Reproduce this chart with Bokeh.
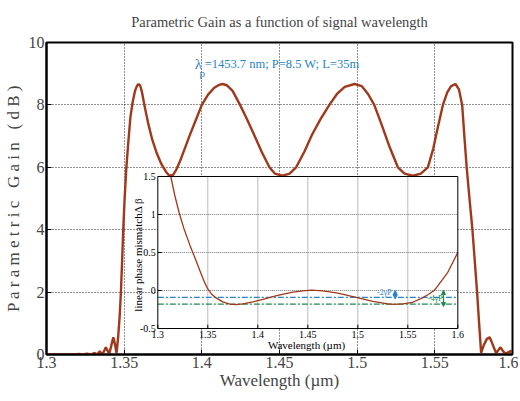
from math import pi
from bokeh.plotting import figure
from bokeh.models import Range1d, FixedTicker, Arrow, NormalHead, Title
from bokeh.core.properties import value
from bokeh.embed import file_html
from bokeh.resources import INLINE

# ---------------- data ----------------
wavelength_um = [
    1.300, 1.310, 1.318, 1.321, 1.3235, 1.326, 1.3285, 1.331, 1.3325, 1.3343,
    1.336, 1.3382, 1.3404, 1.3418, 1.343, 1.3442, 1.3451, 1.3462, 1.3472, 1.3479,
    1.3487, 1.3494, 1.3503, 1.3513, 1.3525, 1.354, 1.3555, 1.357, 1.3583, 1.3593,
    1.3603, 1.3615, 1.363, 1.3655, 1.368, 1.371, 1.374, 1.377, 1.3785, 1.380,
    1.3815, 1.3835, 1.386, 1.389, 1.392, 1.396, 1.400, 1.404, 1.408, 1.411,
    1.4134, 1.416, 1.4198, 1.4246, 1.429, 1.434, 1.4385, 1.4435, 1.447, 1.452,
    1.4565, 1.4607, 1.466, 1.471, 1.4765, 1.4821, 1.487, 1.492, 1.4983, 1.503,
    1.507, 1.511, 1.5155, 1.5205, 1.5262, 1.5305, 1.5358, 1.541, 1.5455, 1.549,
    1.552, 1.5552, 1.558, 1.5605, 1.5633, 1.5655, 1.5676, 1.569, 1.5705, 1.5723,
    1.5742, 1.5757, 1.5772, 1.5785, 1.5798, 1.5815, 1.5835, 1.5853, 1.587, 1.5895,
    1.591, 1.5923, 1.594, 1.5955, 1.5975, 1.5991, 1.600,
]
gain_db = [
    0.0, 0.0, 0.0, 0.02, 0.0, 0.03, 0.0, 0.05, 0.0, 0.10,
    0.0, 0.23, 0.02, 0.30, 0.55, 0.30, 0.04, 0.60, 1.30, 2.00,
    3.00, 4.00, 5.00, 5.90, 6.70, 7.60, 8.10, 8.45, 8.62, 8.67,
    8.62, 8.40, 8.00, 7.40, 6.90, 6.45, 6.10, 5.85, 5.76, 5.73,
    5.76, 5.92, 6.20, 6.60, 7.00, 7.50, 8.00, 8.33, 8.55, 8.64,
    8.67, 8.63, 8.45, 8.00, 7.55, 7.00, 6.50, 6.00, 5.80, 5.73,
    5.80, 6.00, 6.50, 7.05, 7.55, 8.00, 8.35, 8.58, 8.67, 8.60,
    8.35, 8.00, 7.40, 6.70, 6.00, 5.80, 5.73, 5.80, 6.00, 6.60,
    7.30, 8.00, 8.40, 8.60, 8.67, 8.50, 8.00, 7.00, 6.00, 5.00,
    4.00, 3.00, 2.00, 1.00, 0.05, 0.30, 0.50, 0.55, 0.35, 0.04,
    0.15, 0.23, 0.10, 0.02, 0.08, 0.12, 0.08,
]

inset_wavelength_um = [
    1.313, 1.317, 1.3214, 1.326, 1.332, 1.338, 1.343, 1.347, 1.350, 1.354,
    1.3574, 1.365, 1.372, 1.378, 1.385, 1.395, 1.405, 1.4124, 1.420, 1.435,
    1.445, 1.4537, 1.465, 1.480, 1.4984, 1.515, 1.530, 1.5364, 1.545, 1.555,
    1.5656, 1.570, 1.5764, 1.580, 1.590, 1.600,
]
delta_beta = [
    1.50, 1.25, 1.02, 0.82, 0.60, 0.40, 0.23, 0.10, 0.02, -0.05,
    -0.09, -0.15, -0.178, -0.185, -0.175, -0.15, -0.117, -0.09, -0.063, -0.021,
    -0.004, 0.005, -0.006, -0.035, -0.09, -0.143, -0.175, -0.182, -0.175, -0.155,
    -0.09, -0.055, 0.0, 0.06, 0.24, 0.50,
]
minus_2gP = -0.09
minus_4gP = -0.18

x_ticks = [1.3, 1.35, 1.4, 1.45, 1.5, 1.55, 1.6]
x_tick_labels = ["1.3", "1.35", "1.4", "1.45", "1.5", "1.55", "1.6"]
y_ticks = [0, 2, 4, 6, 8, 10]
inset_y_ticks = [-0.5, 0, 0.5, 1, 1.5]
inset_y_tick_labels = ["-0.5", "0", "0.5", "1", "1.5"]

title_text = "Parametric Gain as a function of signal wavelength"
x_label = "Wavelength (\u00b5m)"
y_label = "P a r a m e t r i c \u00a0 G a i n \u00a0 ( d B )"
inset_y_label = "linear phase mismatch\u0394 \u03b2"
params_text = "=1453.7 nm; P=8.5 W; L=35m"

# ---------------- styling ----------------
SERIF = "Liberation Serif"
CURVE = "#a0381b"
BLUE = "#2a84c6"
GREEN = "#1d8a4e"

p = figure(
    frame_width=466, frame_height=312,
    x_range=Range1d(1.3, 1.6), y_range=Range1d(0, 10),
    output_backend="svg", toolbar_location=None,
    title=title_text,
    min_border_left=30, min_border_right=6, min_border_top=42, min_border_bottom=10,
)
p.title.text_font = SERIF
p.title.text_font_size = "14.5px"
p.title.text_font_style = "normal"
p.title.align = "center"
p.title.offset = 0

# small empty spacer between title and frame
p.add_layout(Title(text="\u00a0", text_font_size="6px", standoff=0), "above")

p.outline_line_color = "black"
p.outline_line_width = 2
p.background_fill_color = "white"

for ax in (p.xaxis, p.yaxis):
    ax.axis_line_color = "black"
    ax.axis_line_width = 2
    ax.major_tick_in = 5
    ax.major_tick_out = 0
    ax.minor_tick_line_color = None
    ax.major_label_text_font = SERIF
    ax.major_label_text_font_size = "16px"
    ax.axis_label_text_font = SERIF
    ax.axis_label_text_font_size = "17px"
    ax.axis_label_text_font_style = "normal"

p.xaxis.ticker = FixedTicker(ticks=x_ticks)
p.xaxis.major_label_overrides = {t: s for t, s in zip(x_ticks, x_tick_labels)}
p.xaxis.major_label_standoff = 2
p.xaxis.axis_label = x_label
p.xaxis.axis_label_standoff = 0

p.yaxis.ticker = FixedTicker(ticks=y_ticks)
p.yaxis.major_label_standoff = 2
p.yaxis.axis_label = y_label
p.yaxis.axis_label_standoff = 3

p.grid.grid_line_color = "#222222"
p.grid.grid_line_dash = "1 2"
p.grid.grid_line_width = 1

# main curve
p.line(wavelength_um, gain_db, line_color=CURVE, line_width=2.4)

# parameter annotation
p.text(x=[1.3955], y=[9.32], text=["\u03bb"], text_font=value(SERIF), text_font_size="15px",
       text_color=BLUE, text_align="left", text_baseline="alphabetic")
p.text(x=[1.3985], y=[9.02], text=["p"], text_font=value(SERIF), text_font_size="11px",
       text_color=BLUE, text_align="left", text_baseline="alphabetic")
p.text(x=[1.4018], y=[9.32], text=[params_text], text_font=value(SERIF), text_font_size="12.5px",
       text_color=BLUE, text_align="left", text_baseline="alphabetic")

# ---------------- inset (drawn through its own ranges) ----------------
p.extra_x_ranges = {"inset": Range1d(1.1887, 1.6547)}
p.extra_y_ranges = {"inset": Range1d(-0.842, 3.263)}
kw = dict(x_range_name="inset", y_range_name="inset")

x0, x1 = x_ticks[0], x_ticks[-1]
y0, y1 = inset_y_ticks[0], inset_y_ticks[-1]
p.quad(left=[x0], right=[x1], bottom=[y0], top=[y1], fill_color="white",
       line_color=None, **kw)

# inset grid
gx = x_ticks[1:-1]
p.segment(x0=gx, y0=[y0] * len(gx), x1=gx, y1=[y1] * len(gx),
          line_color="#555555", line_dash="1 1", line_width=0.8, **kw)
gy = inset_y_ticks[1:-1]
p.segment(x0=[x0] * len(gy), y0=gy, x1=[x1] * len(gy), y1=gy,
          line_color="#555555", line_dash="1 1", line_width=0.8, **kw)

# reference levels
p.line([x0, x1], [minus_2gP, minus_2gP], line_color=BLUE, line_dash="6 2 2 2", line_width=1.3, **kw)
p.line([x0, x1], [minus_4gP, minus_4gP], line_color=GREEN, line_dash="6 2 2 2", line_width=1.3, **kw)

# inset curve
p.line(inset_wavelength_um, delta_beta, line_color=CURVE, line_width=1.3, **kw)

# inset frame
p.quad(left=[x0], right=[x1], bottom=[y0], top=[y1], fill_color=None,
       line_color="black", line_width=1, **kw)

# inset ticks
p.segment(x0=x_ticks, y0=[y0] * len(x_ticks), x1=x_ticks, y1=[y0 + 0.05] * len(x_ticks),
          line_color="black", line_width=1, **kw)
p.segment(x0=[x0] * len(inset_y_ticks), y0=inset_y_ticks, x1=[x0 + 0.004] * len(inset_y_ticks),
          y1=inset_y_ticks, line_color="black", line_width=1, **kw)

# inset tick labels
p.text(x=x_ticks, y=[y0] * len(x_ticks), text=x_tick_labels, text_font=value(SERIF),
       text_font_size="10px", text_align="center", text_baseline="top", y_offset=2, **kw)
p.text(x=[x0] * len(inset_y_ticks), y=inset_y_ticks, text=inset_y_tick_labels, text_font=value(SERIF),
       text_font_size="10px", text_align="right", text_baseline="middle", x_offset=-2, **kw)

# inset axis labels
p.text(x=[1.4487], y=[-0.714], text=[x_label], text_font=value(SERIF), text_font_size="11px",
       text_align="center", text_baseline="middle", **kw)
p.text(x=[1.2802], y=[0.47], text=[inset_y_label], text_font=value(SERIF), text_font_size="11px",
       text_align="center", text_baseline="middle", angle=pi / 2, **kw)

# -2γP / -4γP markers
p.text(x=[1.5265], y=[minus_2gP + 0.01], text=["-2\u03b3P"], text_font=value(SERIF), text_font_size="8px",
       text_color=BLUE, text_align="center", text_baseline="bottom", **kw)
p.add_layout(Arrow(x_start=1.5374, y_start=0.0, x_end=1.5374, y_end=minus_2gP - 0.02,
                   start=NormalHead(size=4, fill_color=BLUE, line_color=BLUE),
                   end=NormalHead(size=4, fill_color=BLUE, line_color=BLUE),
                   line_color=BLUE, line_width=1.2, **kw))
p.text(x=[1.5775], y=[minus_4gP + 0.01], text=["-4\u03b3P"], text_font=value(SERIF), text_font_size="8px",
       text_color=GREEN, text_align="center", text_baseline="bottom", **kw)
p.add_layout(Arrow(x_start=1.5857, y_start=0.0, x_end=1.5857, y_end=minus_4gP - 0.03,
                   start=NormalHead(size=4, fill_color=GREEN, line_color=GREEN),
                   end=NormalHead(size=4, fill_color=GREEN, line_color=GREEN),
                   line_color=GREEN, line_width=1.2, **kw))

open("out.html", "w").write(file_html(p, INLINE))
